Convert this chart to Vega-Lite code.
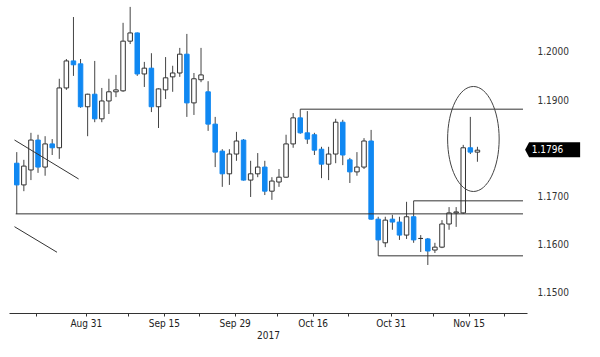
{
  "$schema": "https://vega.github.io/schema/vega-lite/v6.json",
  "width": 518,
  "height": 313,
  "autosize": {"type": "none"},
  "padding": {"left": 9, "top": 0, "right": 73, "bottom": 44},
  "background": "white",
  "config": {"view": {"stroke": null}, "font": "DejaVu Sans Condensed, DejaVu Sans"},
  "datasets": {
    "candles": [
      {"i":0,"o":1.1769,"h":1.1792,"l":1.1664,"c":1.1724},
      {"i":1,"o":1.1724,"h":1.1776,"l":1.1711,"c":1.1763},
      {"i":2,"o":1.1755,"h":1.1832,"l":1.1734,"c":1.1817},
      {"i":3,"o":1.1817,"h":1.1828,"l":1.1749,"c":1.1761},
      {"i":4,"o":1.1761,"h":1.1825,"l":1.1743,"c":1.1809},
      {"i":5,"o":1.1809,"h":1.1819,"l":1.1786,"c":1.1801},
      {"i":6,"o":1.1801,"h":1.1944,"l":1.1778,"c":1.1925},
      {"i":7,"o":1.1925,"h":1.1985,"l":1.1921,"c":1.1981},
      {"i":8,"o":1.1981,"h":1.2072,"l":1.1950,"c":1.1973},
      {"i":9,"o":1.1975,"h":1.1985,"l":1.1884,"c":1.1886},
      {"i":10,"o":1.1886,"h":1.1913,"l":1.1825,"c":1.1912},
      {"i":11,"o":1.1912,"h":1.1981,"l":1.1854,"c":1.1861},
      {"i":12,"o":1.1861,"h":1.1925,"l":1.1854,"c":1.1898},
      {"i":13,"o":1.1898,"h":1.1944,"l":1.1871,"c":1.1917},
      {"i":14,"o":1.1917,"h":1.1952,"l":1.1906,"c":1.1921},
      {"i":15,"o":1.1919,"h":1.2060,"l":1.1917,"c":1.2022},
      {"i":16,"o":1.2022,"h":1.2093,"l":1.2016,"c":1.2039},
      {"i":17,"o":1.2039,"h":1.2040,"l":1.1950,"c":1.1954},
      {"i":18,"o":1.1954,"h":1.1979,"l":1.1927,"c":1.1966},
      {"i":19,"o":1.1966,"h":1.1997,"l":1.1875,"c":1.1886},
      {"i":20,"o":1.1886,"h":1.1924,"l":1.1842,"c":1.1923},
      {"i":21,"o":1.1921,"h":1.1989,"l":1.1902,"c":1.1946},
      {"i":22,"o":1.1948,"h":1.1971,"l":1.1917,"c":1.1956},
      {"i":23,"o":1.1956,"h":1.2008,"l":1.1948,"c":1.1995},
      {"i":24,"o":1.1995,"h":1.2037,"l":1.1865,"c":1.1894},
      {"i":25,"o":1.1894,"h":1.1956,"l":1.1869,"c":1.1944},
      {"i":26,"o":1.1942,"h":1.2008,"l":1.1937,"c":1.1952},
      {"i":27,"o":1.1917,"h":1.1939,"l":1.1836,"c":1.1850},
      {"i":28,"o":1.1850,"h":1.1865,"l":1.1761,"c":1.1792},
      {"i":29,"o":1.1794,"h":1.1798,"l":1.1720,"c":1.1747},
      {"i":30,"o":1.1747,"h":1.1798,"l":1.1724,"c":1.1788},
      {"i":31,"o":1.1788,"h":1.1834,"l":1.1774,"c":1.1815},
      {"i":32,"o":1.1817,"h":1.1819,"l":1.1733,"c":1.1734},
      {"i":33,"o":1.1734,"h":1.1774,"l":1.1699,"c":1.1747},
      {"i":34,"o":1.1747,"h":1.1790,"l":1.1740,"c":1.1761},
      {"i":35,"o":1.1761,"h":1.1774,"l":1.1703,"c":1.1711},
      {"i":36,"o":1.1711,"h":1.1740,"l":1.1693,"c":1.1732},
      {"i":37,"o":1.1730,"h":1.1757,"l":1.1720,"c":1.1740},
      {"i":38,"o":1.1740,"h":1.1828,"l":1.1739,"c":1.1809},
      {"i":39,"o":1.1809,"h":1.1873,"l":1.1801,"c":1.1863},
      {"i":40,"o":1.1863,"h":1.1881,"l":1.1830,"c":1.1832},
      {"i":41,"o":1.1832,"h":1.1877,"l":1.1809,"c":1.1819},
      {"i":42,"o":1.1828,"h":1.1832,"l":1.1786,"c":1.1796},
      {"i":43,"o":1.1798,"h":1.1803,"l":1.1738,"c":1.1767},
      {"i":44,"o":1.1767,"h":1.1803,"l":1.1734,"c":1.1788},
      {"i":45,"o":1.1788,"h":1.1861,"l":1.1769,"c":1.1854},
      {"i":46,"o":1.1854,"h":1.1859,"l":1.1765,"c":1.1786},
      {"i":47,"o":1.1776,"h":1.1780,"l":1.1728,"c":1.1751},
      {"i":48,"o":1.1751,"h":1.1792,"l":1.1743,"c":1.1761},
      {"i":49,"o":1.1761,"h":1.1821,"l":1.1757,"c":1.1815},
      {"i":50,"o":1.1815,"h":1.1838,"l":1.1652,"c":1.1653},
      {"i":51,"o":1.1653,"h":1.1658,"l":1.1577,"c":1.1610},
      {"i":52,"o":1.1604,"h":1.1658,"l":1.1595,"c":1.1651},
      {"i":53,"o":1.1653,"h":1.1662,"l":1.1631,"c":1.1647},
      {"i":54,"o":1.1647,"h":1.1658,"l":1.1610,"c":1.1620},
      {"i":55,"o":1.1620,"h":1.1689,"l":1.1612,"c":1.1658},
      {"i":56,"o":1.1658,"h":1.1691,"l":1.1604,"c":1.1610},
      {"i":57,"o":1.1613,"h":1.1620,"l":1.1585,"c":1.1613},
      {"i":58,"o":1.1612,"h":1.1614,"l":1.1558,"c":1.1587},
      {"i":59,"o":1.1589,"h":1.1604,"l":1.1583,"c":1.1595},
      {"i":60,"o":1.1595,"h":1.1651,"l":1.1593,"c":1.1643},
      {"i":61,"o":1.1643,"h":1.1678,"l":1.1631,"c":1.1666},
      {"i":62,"o":1.1666,"h":1.1678,"l":1.1637,"c":1.1668},
      {"i":63,"o":1.1666,"h":1.1807,"l":1.1664,"c":1.1801},
      {"i":64,"o":1.1801,"h":1.1865,"l":1.1788,"c":1.1792},
      {"i":65,"o":1.1792,"h":1.1803,"l":1.1772,"c":1.1796}
    ],
    "levels": [
      {"i0":40,"i1":71.43,"p":1.1881},
      {"i0":56,"i1":71.43,"p":1.1691},
      {"i0":-0.15,"i1":71.43,"p":1.1664},
      {"i0":51,"i1":71.43,"p":1.1577}
    ],
    "trends": [
      {"i0":-0.32,"p0":1.18171,"i1":8.73,"p1":1.17363},
      {"i0":-0.32,"p0":1.16374,"i1":5.68,"p1":1.15844}
    ],
    "focus": [{"i":64.43,"p":1.18192}],
    "last": [{"i":75.61,"t":72.67,"p":1.1797,"label":"1.1796"}]
  },
  "layer": [
    {
      "data": {"name": "candles"},
      "mark": {"type": "rule", "color": "#444444", "strokeWidth": 1},
      "encoding": {
        "x": {
          "field": "i", "type": "quantitative",
          "scale": {"domain": [-0.39, 71.29], "nice": false, "zero": false},
          "axis": {
            "orient": "bottom",
            "values": [2.75, 9.75, 15.75, 20.75, 25.75, 30.75, 36.75, 41.75, 46.75, 52.75, 58.75, 63.75, 68.75],
            "labelExpr": "datum.value == 9.75 ? 'Aug 31' : datum.value == 20.75 ? 'Sep 15' : datum.value == 30.75 ? 'Sep 29' : datum.value == 41.75 ? 'Oct 16' : datum.value == 52.75 ? 'Oct 31' : datum.value == 63.75 ? 'Nov 15' : ''",
            "grid": false,
            "tickSize": 3,
            "tickColor": "#333333",
            "domainColor": "#333333",
            "labelColor": "#222222",
            "labelFontSize": 10,
            "labelPadding": 2,
            "labelFlush": false,
            "labelOverlap": false,
            "labelBound": false,
            "title": "2017",
            "titleFontSize": 10,
            "titleFontWeight": "normal",
            "titleColor": "#222222",
            "titlePadding": 2
          }
        },
        "y": {
          "field": "l", "type": "quantitative",
          "scale": {"domain": [1.14585, 1.21073], "nice": false, "zero": false},
          "axis": {
            "orient": "right",
            "values": [1.15, 1.16, 1.17, 1.19, 1.2],
            "format": ".4f",
            "grid": false,
            "ticks": false,
            "domain": false,
            "labelPadding": 10,
            "labelFontSize": 10,
            "labelColor": "#333333",
            "title": null
          }
        },
        "y2": {"field": "h"}
      }
    },
    {
      "data": {"name": "candles"},
      "mark": {"type": "bar", "size": 4.5, "strokeWidth": 1},
      "encoding": {
        "x": {"field": "i", "type": "quantitative"},
        "y": {"field": "o", "type": "quantitative"},
        "y2": {"field": "c"},
        "fill": {"condition": {"test": "datum.c < datum.o", "value": "#1088f2"}, "value": "#ffffff"},
        "stroke": {"condition": {"test": "datum.c < datum.o", "value": "#1088f2"}, "value": "#333333"}
      }
    },
    {
      "data": {"name": "levels"},
      "mark": {"type": "rule", "color": "#333333", "strokeWidth": 1},
      "encoding": {
        "x": {"field": "i0", "type": "quantitative"},
        "x2": {"field": "i1"},
        "y": {"field": "p", "type": "quantitative"}
      }
    },
    {
      "data": {"name": "trends"},
      "mark": {"type": "rule", "color": "#333333", "strokeWidth": 1},
      "encoding": {
        "x": {"field": "i0", "type": "quantitative"},
        "x2": {"field": "i1"},
        "y": {"field": "p0", "type": "quantitative"},
        "y2": {"field": "p1"}
      }
    },
    {
      "data": {"name": "focus"},
      "mark": {
        "type": "point",
        "filled": false,
        "shape": "M -0.491 0 A 0.491 1 0 1 1 0.491 0 A 0.491 1 0 1 1 -0.491 0 Z",
        "size": 11025,
        "stroke": "#444444",
        "strokeWidth": 1,
        "opacity": 1
      },
      "encoding": {
        "x": {"field": "i", "type": "quantitative"},
        "y": {"field": "p", "type": "quantitative"}
      }
    },
    {
      "data": {"name": "last"},
      "mark": {
        "type": "point",
        "filled": true,
        "shape": "M -1 0 L -0.855 -0.273 L 1 -0.273 L 1 0.273 L -0.855 0.273 Z",
        "size": 3025,
        "color": "#000000",
        "opacity": 1
      },
      "encoding": {
        "x": {"field": "i", "type": "quantitative"},
        "y": {"field": "p", "type": "quantitative"}
      }
    },
    {
      "data": {"name": "last"},
      "mark": {"type": "text", "align": "left", "baseline": "middle", "color": "#ffffff", "fontSize": 10},
      "encoding": {
        "x": {"field": "t", "type": "quantitative"},
        "y": {"field": "p", "type": "quantitative"},
        "text": {"field": "label"}
      }
    }
  ]
}
